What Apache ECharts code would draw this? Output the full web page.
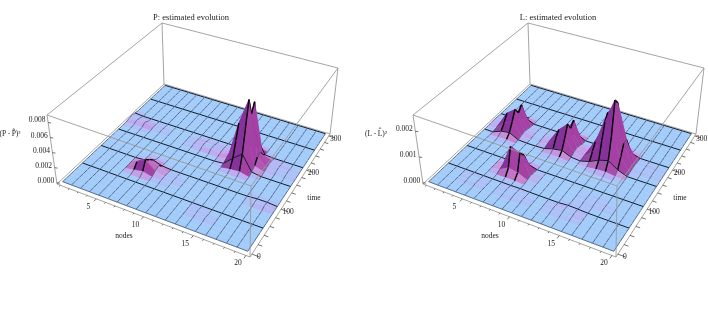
<!DOCTYPE html>
<html>
<head>
<meta charset="utf-8">
<style>
  html, body { margin: 0; padding: 0; background: #fff; }
  #chart { width: 708px; height: 326px; }
</style>
<script src="https://cdn.jsdelivr.net/npm/echarts@6/dist/echarts.min.js"></script>
</head>
<body>
<div id="chart"></div>
<script>
  var nodes = [1, 2, 3, 4, 5, 6, 7, 8, 9, 10, 11, 12, 13, 14, 15, 16, 17, 18, 19, 20]
  var times = [0, 10, 20, 30, 40, 50, 60, 70, 80, 90, 100, 110, 120, 130, 140, 150, 160, 170, 180, 190, 200, 210, 220, 230, 240, 250, 260, 270, 280, 290, 300]

  var nodeTicks = [5, 10, 15, 20]
  var timeTicks = [0, 100, 200, 300]
  var pTicks = ['0.000', '0.002', '0.004', '0.006', '0.008']
  var lTicks = ['0.000', '0.001', '0.002']

  // [node, first time, values every 10 time units], everything else is 0. units of 1e-4
  var pRuns = [
    [1, 180, [1, 2, 1]],
    [2, 170, [1, 3, 2]],
    [3, 170, [1, 4, 1]],
    [4, 180, [1, 1]],
    [5, 180, [1]],
    [6, 70, [2, 8, 5, 1]],
    [7, 70, [4, 15, 10, 5, 1]],
    [8, 70, [1, 4, 6, 1]],
    [9, 70, [1, 1, 1]],
    [10, 80, [1]],
    [9, 170, [1, 1]],
    [10, 170, [2, 3, 1]],
    [11, 170, [3, 3, 1]],
    [12, 170, [1, 2, 1]],
    [13, 150, [1, 3, 5, 3, 1]],
    [14, 140, [2, 12, 30, 50, 38, 18, 4]],
    [15, 140, [3, 22, 54, 86, 62, 74, 22, 3]],
    [16, 150, [2, 5, 12, 14, 6, 1]],
    [17, 160, [1, 2, 3, 2]],
    [18, 170, [1, 2, 1]],
    [19, 170, [1, 1]],
    [14, 30, [1, 1]],
    [15, 30, [1]],
    [18, 90, [1, 1]],
    [19, 90, [2, 1]]
  ]

  // same layout, units of 1e-5
  var lRuns = [
    [1, 170, [1, 2, 1]],
    [2, 160, [3, 8, 5, 2]],
    [3, 140, [3, 14, 34, 62, 42, 16, 3]],
    [4, 140, [4, 20, 52, 88, 62, 82, 16, 2]],
    [5, 150, [2, 6, 10, 6, 2]],
    [6, 170, [3, 4, 2]],
    [7, 170, [3, 4, 2]],
    [8, 150, [2, 6, 10, 6, 2]],
    [9, 140, [3, 12, 42, 62, 48, 20, 3]],
    [10, 140, [4, 18, 54, 96, 66, 86, 16, 2]],
    [11, 150, [3, 10, 14, 8, 2]],
    [12, 160, [2, 3, 2]],
    [13, 140, [2, 10, 34, 60, 68, 42, 12, 2]],
    [14, 140, [6, 28, 90, 150, 175, 100, 24, 3]],
    [15, 140, [8, 38, 120, 250, 226, 130, 30, 4]],
    [16, 140, [3, 14, 50, 90, 90, 50, 10, 2]],
    [17, 160, [2, 4, 4, 2]],
    [18, 170, [3, 4, 2]],
    [19, 170, [2, 2]],
    [6, 60, [1, 8, 14, 6]],
    [7, 60, [3, 26, 96, 66, 14, 2]],
    [8, 60, [2, 20, 84, 60, 10, 1]],
    [9, 70, [3, 6, 3]],
    [4, 30, [2, 3]],
    [5, 30, [3, 2]],
    [8, 30, [2, 3]],
    [9, 30, [3, 3, 1]],
    [10, 30, [3, 1]],
    [13, 30, [2, 3]],
    [14, 30, [3, 5, 3]],
    [15, 30, [3, 5, 2]],
    [15, 70, [2, 1]],
    [16, 70, [3, 2]],
    [17, 70, [2]]
  ]

  // box corners of the left plot, the right one is the same box moved along
  var boxFloor = [[57, 184], [250, 257], [330, 134], [164, 84]]
  var boxTop = [[47, 115], [251, 186], [338, 68], [162, 23]]
  var plotShift = 366
  var font = '"Liberation Serif", serif'

  function homography (q) {
    var sx = q[0][0] - q[1][0] + q[2][0] - q[3][0]
    var sy = q[0][1] - q[1][1] + q[2][1] - q[3][1]
    var dx1 = q[1][0] - q[2][0]
    var dx2 = q[3][0] - q[2][0]
    var dy1 = q[1][1] - q[2][1]
    var dy2 = q[3][1] - q[2][1]
    var den = dx1 * dy2 - dx2 * dy1
    var g = (sx * dy2 - dx2 * sy) / den
    var h = (dx1 * sy - sx * dy1) / den
    var a = q[1][0] - q[0][0] + g * q[1][0]
    var b = q[3][0] - q[0][0] + h * q[3][0]
    var d = q[1][1] - q[0][1] + g * q[1][1]
    var e = q[3][1] - q[0][1] + h * q[3][1]
    return function (u, v) {
      var w = g * u + h * v + 1
      return [(a * u + b * v + q[0][0]) / w, (d * u + e * v + q[0][1]) / w]
    }
  }

  var floorMap = homography(boxFloor)
  var topMap = homography(boxTop)

  function project (plot, n, t, z) {
    var u = (n - 0.62) / 19.76
    var v = (t + 6) / 312
    var w = (z - plot.zMin) / (plot.zMax - plot.zMin)
    var a = floorMap(u, v)
    var b = topMap(u, v)
    return [a[0] + (b[0] - a[0]) * w + plot.shift, a[1] + (b[1] - a[1]) * w]
  }

  function buildMatrix (runs) {
    var rows = nodes.map(function () {
      return times.map(function () { return 0 })
    })
    runs.forEach(function (r) {
      r[2].forEach(function (val, i) {
        rows[r[0] - 1][times.indexOf(r[1]) + i] = val
      })
    })
    return rows
  }

  function mix (a, b, k) {
    return [a[0] + (b[0] - a[0]) * k, a[1] + (b[1] - a[1]) * k, a[2] + (b[2] - a[2]) * k]
  }

  function cellColor (plot, zs) {
    var range = plot.zMax - plot.zMin
    var gn = (zs[1] + zs[2] - zs[0] - zs[3]) / 2 / range
    var gt = (zs[3] + zs[2] - zs[0] - zs[1]) / 2 / range
    var k = Math.min(1, (Math.abs(gn) + Math.abs(gt)) * 7)
    var c
    if (k < 0.25) {
      c = mix([163, 204, 251], [192, 168, 240], k / 0.25)
    } else if (k < 0.5) {
      c = mix([192, 168, 240], [205, 135, 210], (k - 0.25) / 0.25)
    } else {
      var side = gn < 0 ? [165, 65, 165] : [135, 50, 155]
      c = mix([205, 135, 210], side, (k - 0.5) / 0.5)
    }
    return 'rgb(' + Math.round(c[0]) + ',' + Math.round(c[1]) + ',' + Math.round(c[2]) + ')'
  }

  function surfaceSeries (plot) {
    var cells = []
    for (var ti = times.length - 2; ti >= 0; ti--) {
      for (var ni = 0; ni < nodes.length - 1; ni++) {
        cells.push([ni, ti])
      }
    }
    var range = plot.zMax - plot.zMin
    return {
      type: 'custom',
      z: 3,
      silent: true,
      data: cells,
      renderItem: function (params, api) {
        var ni = api.value(0)
        var ti = api.value(1)
        var zAt = function (a, b) { return plot.values[a][b] * plot.unit }
        var zs = [zAt(ni, ti), zAt(ni + 1, ti), zAt(ni + 1, ti + 1), zAt(ni, ti + 1)]
        var pt = function (a, b, z) {
          return api.coord(project(plot, nodes[a], times[b], z))
        }
        var p0 = pt(ni, ti, zs[0])
        var p1 = pt(ni + 1, ti, zs[1])
        var p2 = pt(ni + 1, ti + 1, zs[2])
        var p3 = pt(ni, ti + 1, zs[3])
        var fill = cellColor(plot, zs)
        var kids = [{
          type: 'polygon',
          shape: { points: [p0, p1, p2, p3] },
          style: { fill: fill, stroke: fill, lineWidth: 0.5 }
        }]
        var seg = function (a, b, width, color) {
          kids.push({
            type: 'line',
            shape: { x1: a[0], y1: a[1], x2: b[0], y2: b[1] },
            style: { stroke: color, lineWidth: width }
          })
        }
        // edges shared with cells already drawn, so peaks can hide them later
        var steep = Math.abs(zs[3] - zs[0]) / range > 0.05
        seg(p0, p3, steep ? 1.4 : 0.7, steep ? '#000' : '#33445c')
        if (ni === nodes.length - 2) seg(p1, p2, 0.7, '#33445c')
        if (times[ti + 1] % 50 === 0) seg(p3, p2, 1, '#141c28')
        if (ti === 0) seg(p0, p1, 0.7, '#33445c')
        return { type: 'group', children: kids }
      }
    }
  }

  function boxPoint (plot, c, top) {
    var q = top ? boxTop[c] : boxFloor[c]
    return [q[0] + plot.shift, q[1]]
  }

  // box edges: [corner, top?, corner, top?]
  var backEdges = [[0, 0, 3, 0], [3, 0, 2, 0], [3, 0, 3, 1], [2, 0, 2, 1], [0, 0, 0, 1], [0, 1, 3, 1], [3, 1, 2, 1]]
  var frontEdges = [[0, 0, 1, 0], [1, 0, 2, 0], [1, 0, 1, 1], [0, 1, 1, 1], [1, 1, 2, 1]]

  function edgeSeries (plot, edges, zLevel) {
    return {
      type: 'custom',
      z: zLevel,
      silent: true,
      data: edges,
      renderItem: function (params, api) {
        var a = api.coord(boxPoint(plot, api.value(0), api.value(1)))
        var b = api.coord(boxPoint(plot, api.value(2), api.value(3)))
        return {
          type: 'line',
          shape: { x1: a[0], y1: a[1], x2: b[0], y2: b[1] },
          style: { stroke: '#9a9a9a', lineWidth: 0.9 }
        }
      }
    }
  }

  function axisSeries (plot) {
    var items = []
    nodes.forEach(function (n) {
      items.push({ a: project(plot, n, -6, plot.zMin), b: project(plot, n, n % 5 === 0 ? -12 : -9, plot.zMin) })
    })
    nodeTicks.forEach(function (n) {
      var p = project(plot, n, -6, plot.zMin)
      items.push({ label: String(n), at: [p[0] - 8, p[1] + 8], size: 7.5 })
    })
    times.forEach(function (t) {
      if (t % 20 !== 0) return
      items.push({ a: project(plot, 20.38, t, plot.zMin), b: project(plot, 20.38 + (t % 100 === 0 ? 0.7 : 0.4), t, plot.zMin) })
    })
    timeTicks.forEach(function (t) {
      var p = project(plot, 20.38, t, plot.zMin)
      items.push({ label: String(t), at: [p[0] + 7, p[1] + 3], size: 7.5 })
    })
    plot.ticks.forEach(function (txt) {
      var p = project(plot, 0.62, -6, Number(txt))
      items.push({ a: p, b: [p[0] + 3, p[1] + 0.5] })
      items.push({ label: txt, at: [p[0] - 11, p[1] - 2], size: 7.5 })
    })
    items.push({ label: 'nodes', at: [124 + plot.shift, 236], size: 7.5 })
    items.push({ label: 'time', at: [314 + plot.shift, 198], size: 7.5 })
    items.push({ label: plot.zLabel, at: [plot.zLabelX, 134], size: 7.5 })

    return {
      type: 'custom',
      z: 5,
      silent: true,
      data: items.map(function (d, i) { return [i] }),
      renderItem: function (params, api) {
        var d = items[api.value(0)]
        if (d.label) {
          var at = api.coord(d.at)
          return {
            type: 'text',
            x: at[0],
            y: at[1],
            style: { text: d.label, font: d.size + 'px ' + font, fill: '#222', align: 'center', verticalAlign: 'middle' }
          }
        }
        var a = api.coord(d.a)
        var b = api.coord(d.b)
        return {
          type: 'line',
          shape: { x1: a[0], y1: a[1], x2: b[0], y2: b[1] },
          style: { stroke: '#333', lineWidth: 0.7 }
        }
      }
    }
  }

  var plotP = { shift: 0, zMin: -0.00017, zMax: 0.009, unit: 1e-4, values: buildMatrix(pRuns), ticks: pTicks, zLabel: '(P\u2009-\u2009P\u0302)\u00b2', zLabelX: 10 }
  var plotL = { shift: plotShift, zMin: -0.00005, zMax: 0.00263, unit: 1e-5, values: buildMatrix(lRuns), ticks: lTicks, zLabel: '(L\u2009-\u2009L\u0302)\u00b2', zLabelX: 376 }

  var series = []
  ;[plotP, plotL].forEach(function (plot) {
    series.push(edgeSeries(plot, backEdges, 1))
    series.push(surfaceSeries(plot))
    series.push(edgeSeries(plot, frontEdges, 4))
    series.push(axisSeries(plot))
  })

  var titleStyle = { fontFamily: font, fontSize: 8.5, fontWeight: 'normal', color: '#222' }

  var myChart = echarts.init(document.getElementById('chart'), null, { renderer: 'canvas' })
  myChart.setOption({
    animation: false,
    backgroundColor: '#fff',
    title: [
      { text: 'P: estimated evolution', left: 191, top: 13, padding: 0, textAlign: 'center', textStyle: titleStyle },
      { text: 'L: estimated evolution', left: 558, top: 13, padding: 0, textAlign: 'center', textStyle: titleStyle }
    ],
    grid: { left: 0, right: 0, top: 0, bottom: 0 },
    xAxis: { type: 'value', min: 0, max: 708, show: false },
    yAxis: { type: 'value', min: 0, max: 326, inverse: true, show: false },
    series: series
  })
</script>
</body>
</html>
